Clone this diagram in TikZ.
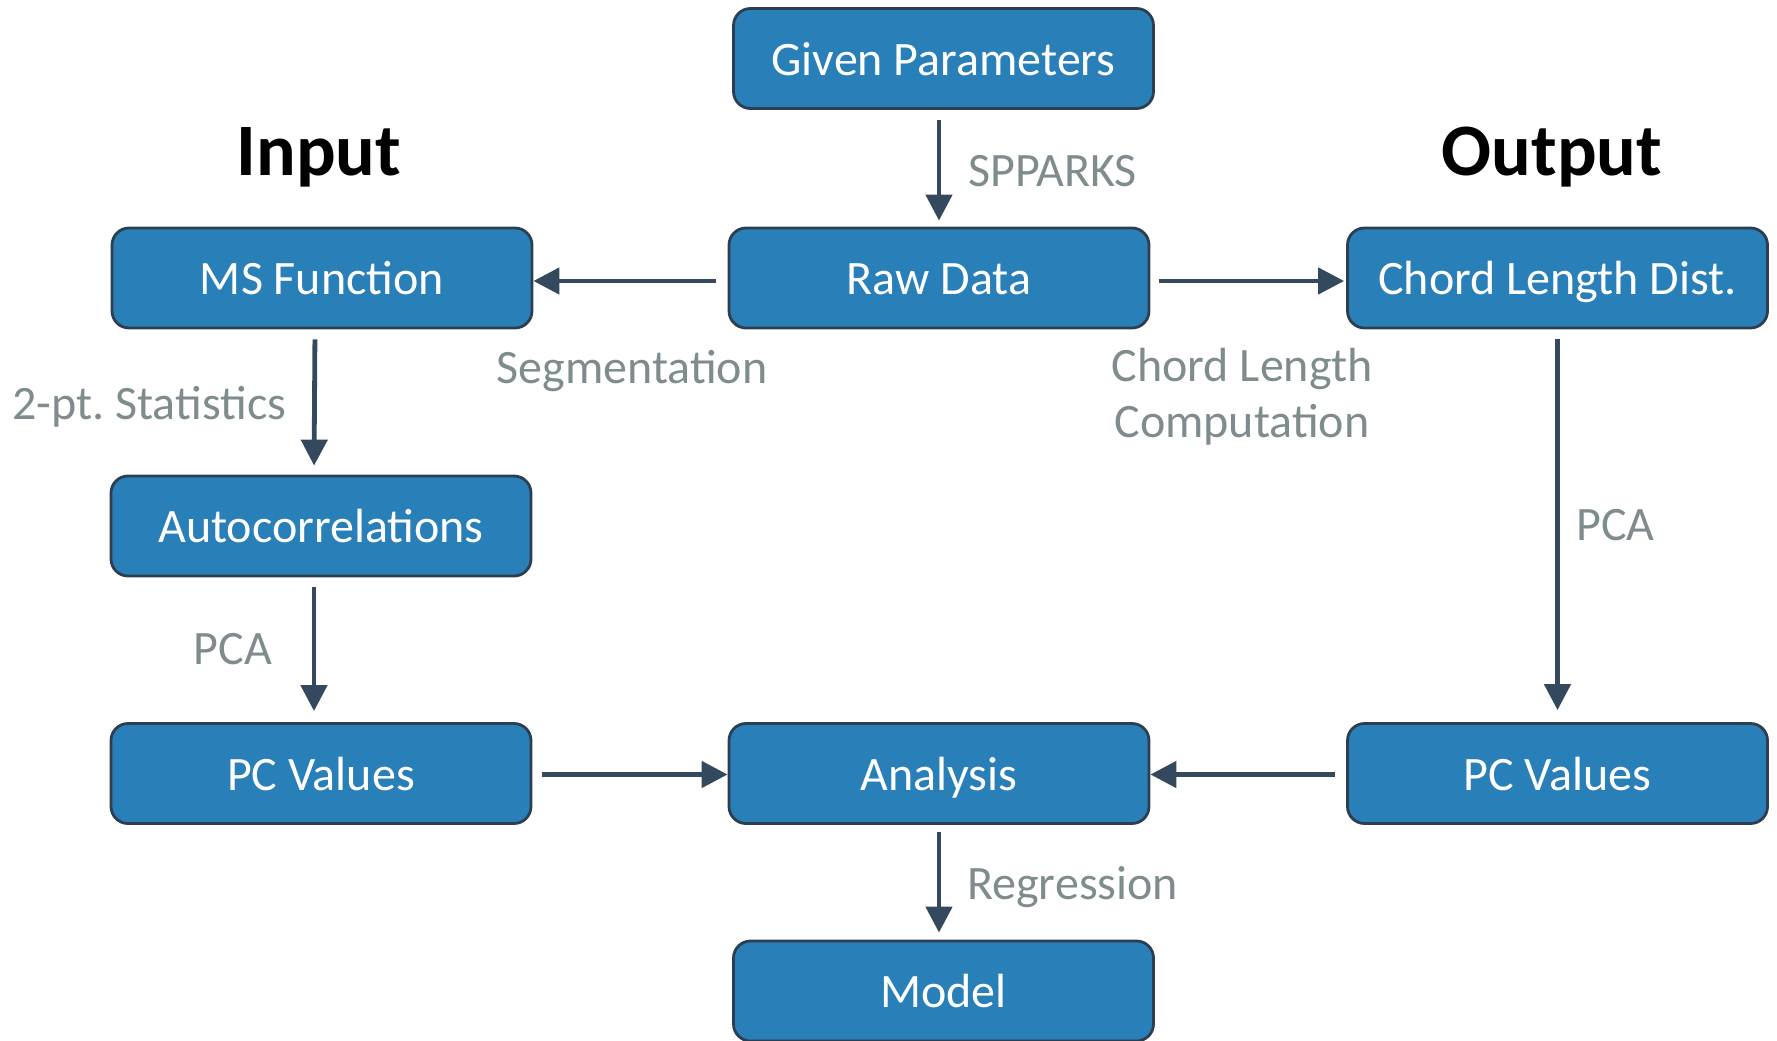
\documentclass[tikz,border=0pt]{standalone}
\usepackage{fontspec}
\setmainfont{Carlito}
\frenchspacing
\usetikzlibrary{arrows.meta}
\definecolor{boxfill}{RGB}{41,128,185}
\definecolor{boxline}{RGB}{44,62,80}
\definecolor{arrowc}{RGB}{52,73,94}
\definecolor{labelc}{RGB}{127,140,141}
\tikzset{
  stepbox/.style={draw=boxline, line width=2.8pt, fill=boxfill, rounded corners=17pt,
    minimum width=420pt, minimum height=100pt, inner sep=0pt, text=white,
    font=\fontsize{48}{56}\selectfont, text height=33pt, text depth=0pt},
  lbl/.style={text=labelc, font=\fontsize{48}{56}\selectfont, inner sep=0pt, text height=31pt, text depth=0pt},
  ttl/.style={text=black, font=\fontsize{74}{80}\selectfont\bfseries, inner sep=0pt, text height=47pt, text depth=0pt},
  flow/.style={draw=arrowc, line width=4.8pt, -{Triangle[length=26pt,width=26pt]}, shorten <=10pt}
}
\begin{document}
\begin{tikzpicture}[x=1pt,y=-1pt]
\useasboundingbox (0,0) rectangle (1777,1041);
\node[stepbox] (given) at (943.5,58.5) {Given Parameters};
\node[stepbox] (raw) at (939,278) {Raw Data};
\node[stepbox] (ms) at (322,278) {MS Function};
\node[stepbox] (chord) at (1557.5,278) {Chord Length Dist.};
\node[stepbox] (auto) at (321,526) {Autocorrelations};
\node[stepbox] (pcl) at (321,773.5) {PC Values};
\node[stepbox] (ana) at (939,773.5) {Analysis};
\node[stepbox] (pcr) at (1557.5,773.5) {PC Values};
\node[stepbox] (model) at (943.5,991) {Model};

\node[ttl] (tin) at (319,152) {Input};
\node[ttl] (tout) at (1552,152) {Output};

\node[lbl, anchor=west] (lsp) at (968,171) {SPPARKS};
\node[lbl] (lseg) at (632,368) {Segmentation};
\node[lbl, anchor=west] (lstat) at (12,404) {2-pt. Statistics};
\node[lbl, align=center] (lchord) at (1242,422) {Chord Length\\Computation};
\node[lbl, anchor=west] (lpcar) at (1576,525) {PCA};
\node[lbl] (lpcal) at (233,649) {PCA};
\node[lbl, anchor=west] (lreg) at (967,884) {Regression};

\draw[flow, shorten >=6pt] (given.south -| raw.north) -- (raw.north);
\draw[flow, shorten <=12pt] ([yshift=-3pt]raw.west) -- ([yshift=-3pt]ms.east);
\draw[flow, shorten <=9pt, shorten >=2pt] ([yshift=-3pt]raw.east) -- ([yshift=-3pt]chord.west);
\draw[flow, shorten >=9pt] ([xshift=-7pt]ms.south) -- ([xshift=-7pt]auto.north);
\draw[flow, shorten >=11pt] ([xshift=-7pt]auto.south) -- ([xshift=-7pt]pcl.north);
\draw[flow] ([yshift=-1pt]pcl.east) -- ([yshift=-1pt]ana.west);
\draw[flow, shorten <=11pt] ([yshift=-1pt]pcr.west) -- ([yshift=-1pt]ana.east);
\draw[flow, shorten >=12pt] (chord.south) -- (pcr.north);
\draw[flow, shorten <=7pt, shorten >=7pt] (ana.south) -- (ana.south |- model.north);
\end{tikzpicture}
\end{document}
